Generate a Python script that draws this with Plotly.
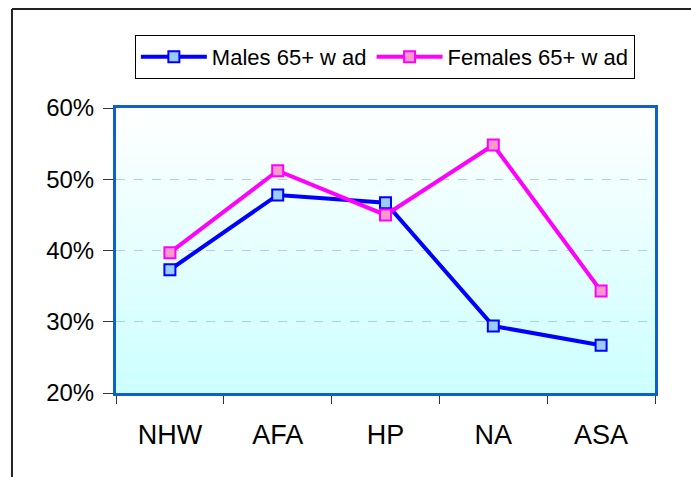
import plotly.graph_objects as go

categories = ["NHW", "AFA", "HP", "NA", "ASA"]
males = [0.373, 0.478, 0.467, 0.294, 0.267]
females = [0.397, 0.512, 0.450, 0.548, 0.343]
y_ticks = [0.2, 0.3, 0.4, 0.5, 0.6]
y_tick_labels = ["20%", "30%", "40%", "50%", "60%"]

fig = go.Figure()
fig.add_trace(go.Scatter(
    x=categories, y=males, name="Males 65+ w ad", mode="lines+markers",
    line=dict(color="#0000FF", width=4),
    marker=dict(symbol="square", size=11, color="#99CCFF", line=dict(color="#0000FF", width=2)),
))
fig.add_trace(go.Scatter(
    x=categories, y=females, name="Females 65+ w ad", mode="lines+markers",
    line=dict(color="#FF00FF", width=4),
    marker=dict(symbol="square", size=11, color="#FF99CC", line=dict(color="#FF00FF", width=2)),
))

shapes = []
n = 60
for i in range(n):
    t = i / (n - 1)
    r = int(255 - (255 - 204) * t)
    shapes.append(dict(type="rect", xref="paper", yref="paper", x0=0, x1=1,
                       y0=1 - (i + 1) / n, y1=1 - i / n, line=dict(width=0),
                       fillcolor=f"rgb({r},255,255)", layer="below"))
# outer frame (left and top edges visible)
shapes.append(dict(type="line", xref="paper", yref="paper", x0=-0.193, x1=-0.193,
                   y0=-0.4, y1=1.347, line=dict(color="#222222", width=2)))
shapes.append(dict(type="line", xref="paper", yref="paper", x0=-0.193, x1=1.2,
                   y0=1.347, y1=1.347, line=dict(color="#222222", width=2)))

fig.update_layout(
    width=691, height=477,
    margin=dict(l=116, r=36, t=108, b=84),
    paper_bgcolor="white", plot_bgcolor="rgba(0,0,0,0)",
    font=dict(family="Liberation Sans, Arial, sans-serif", color="black"),
    showlegend=True,
    legend=dict(orientation="h", x=0.035, y=1.256, xanchor="left", yanchor="top",
                bordercolor="black", borderwidth=1, bgcolor="white",
                font=dict(size=22), itemwidth=66, tracegroupgap=0),
    shapes=shapes,
    xaxis=dict(type="category", tickson="boundaries", ticks="outside", ticklen=8,
               tickcolor="#333333", tickfont=dict(size=27), showgrid=False,
               showline=True, linecolor="#1060CC", linewidth=3, mirror=True,
               range=[-0.5, 4.5], ticklabelstandoff=16),
    yaxis=dict(range=[0.2, 0.6], tickvals=y_ticks, ticktext=y_tick_labels,
               ticks="outside", ticklen=10, tickcolor="#333333", tickfont=dict(size=24),
               showgrid=True, gridcolor="#A8D0FF", griddash="dash", gridwidth=1,
               showline=True, linecolor="#1060CC", linewidth=3, mirror=True,
               zeroline=False, ticklabelstandoff=4),
)

fig.write_html("out.html", config={"displayModeBar": False})
with open("out.html", "r", encoding="utf-8") as f:
    html = f.read()
html = html.replace("<head>", "<head><style>html,body{margin:0;padding:0;overflow:hidden;}</style>", 1)
with open("out.html", "w", encoding="utf-8") as f:
    f.write(html)
